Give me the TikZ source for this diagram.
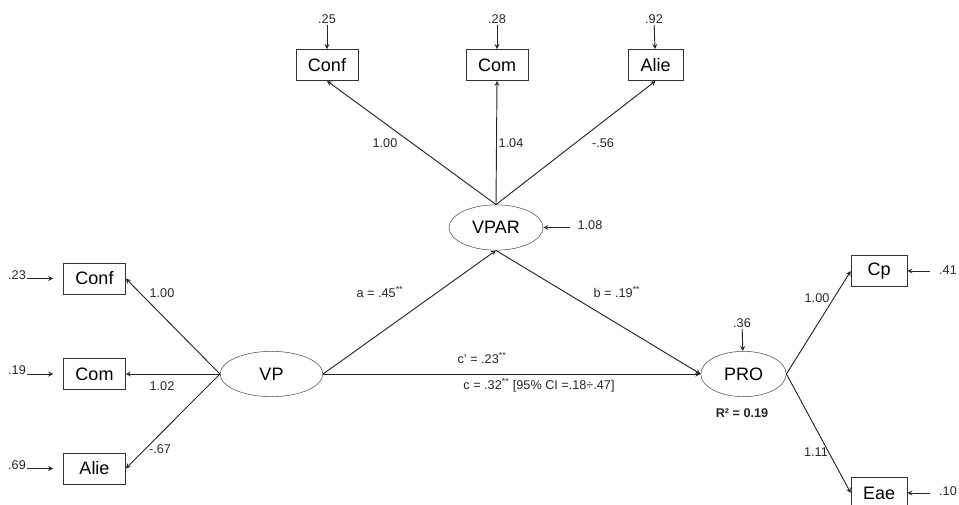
\documentclass[tikz,border=0pt]{standalone}
\usepackage{fontspec}
\setmainfont{Liberation Sans}
\usepackage{tikz}
\usetikzlibrary{shapes.geometric}

\tikzset{
  obs/.style={draw=black!80, rectangle, minimum width=46.5pt, minimum height=23.5pt, inner sep=0pt, font=\fontsize{13.5}{15}\selectfont},
  lat/.style={draw=black!70, ellipse, minimum width=70.5pt, minimum height=34pt, inner sep=0pt, font=\fontsize{13.5}{15}\selectfont},
  lbl/.style={inner sep=1pt, font=\fontsize{9.5}{11}\selectfont, text=black!85},
  link/.style={draw=black!85, line width=0.7pt, -stealth},
}

\begin{document}
\begin{tikzpicture}[x=0.75pt, y=-0.75pt]
    \useasboundingbox (0,0) rectangle (959,504) ;
    % latent variables
    \node[lat] (VPAR) at (496,227.5) {VPAR} ;
    \node[lat, minimum width=77pt] (VP) at (271.5,374) {VP} ;
    \node[lat, minimum width=64pt] (PRO) at (743.5,374) {PRO} ;
    % indicators
    \node[obs] (tConf) at (327,65) {Conf} ;
    \node[obs] (tCom) at (497,65) {Com} ;
    \node[obs, minimum width=41pt] (tAlie) at (655.5,65) {Alie} ;
    \node[obs] (lConf) at (94.5,278.5) {Conf} ;
    \node[obs] (lCom) at (94.5,374) {Com} ;
    \node[obs] (lAlie) at (94.5,468.5) {Alie} ;
    \node[obs, minimum width=42pt] (Cp) at (879,271) {Cp} ;
    \node[obs, minimum width=42pt] (Eae) at (879,493) {Eae} ;
    % error terms
    \node[lbl] (etConf) at (327,19) {.25} ;
    \node[lbl] (etCom) at (497,19) {.28} ;
    \node[lbl] (etAlie) at (654,19) {.92} ;
    \node[lbl] (elConf) at (17,275) {.23} ;
    \node[lbl] (elCom) at (17,370) {.19} ;
    \node[lbl] (elAlie) at (17,465) {.69} ;
    \node[lbl] (eCp) at (948,270) {.41} ;
    \node[lbl] (eEae) at (948,491) {.10} ;
    \node[lbl] (eVPAR) at (590,225) {1.08} ;
    \node[lbl] (ePRO) at (742,323) {.36} ;
    \draw[link] (etConf) -- (tConf) ;
    \draw[link] (etCom) -- (tCom) ;
    \draw[link] (etAlie) -- (tAlie) ;
    \draw[link, shorten >=7.5pt] (elConf.east |- lConf) -- (lConf) ;
    \draw[link, shorten >=7.5pt] (elCom.east |- lCom) -- (lCom) ;
    \draw[link, shorten >=7.5pt] (elAlie.east |- lAlie) -- (lAlie) ;
    \draw[link, shorten <=6pt] (eCp.west |- Cp) -- (Cp) ;
    \draw[link, shorten <=6pt] (eEae.west |- Eae) -- (Eae) ;
    \draw[link, shorten <=4.5pt] (eVPAR.west |- VPAR) -- (VPAR) ;
    \draw[link] (ePRO) -- (PRO) ;
    % loadings
    \draw[link] (VPAR.north) -- (tConf.south) ;
    \draw[link] (VPAR.north) -- (tCom.south) ;
    \draw[link] (VPAR.north) -- (tAlie.south) ;
    \draw[link] (VP.west) -- (lConf.east) ;
    \draw[link] (VP.west) -- (lCom.east) ;
    \draw[link] (VP.west) -- (lAlie.east) ;
    \draw[link] (PRO.east) -- (Cp.west) ;
    \draw[link] (PRO.east) -- (Eae.west) ;
    % structural paths
    \draw[link] (VP.east) -- (VPAR.south) ;
    \draw[link] (VPAR.south) -- (PRO.west) ;
    \draw[link] (VP.east) -- (PRO.west) ;
    % coefficients
    \node[lbl] (kConf) at (385,143) {1.00} ;
    \node[lbl] (kCom) at (511,143) {1.04} ;
    \node[lbl] (kAlie) at (603,143) {-.56} ;
    \node[lbl] (pConf) at (162,293) {1.00} ;
    \node[lbl] (pCom) at (162,386) {1.02} ;
    \node[lbl] (pAlie) at (160,449) {-.67} ;
    \node[lbl] (qCp) at (817,298) {1.00} ;
    \node[lbl] (qEae) at (816,452) {1.11} ;
    \node[lbl] (coefa) at (380,292) {a = .45\textsuperscript{**}} ;
    \node[lbl] (coefb) at (617,292) {b = .19\textsuperscript{**}} ;
    \node[lbl] (coefcp) at (482,358) {c’ = .23\textsuperscript{**}} ;
    \node[lbl] (coefc) at (539,385) {c = .32\textsuperscript{**} [95\% CI =.18÷.47]} ;
    \node[lbl, font=\fontsize{9.5}{11}\selectfont\bfseries] (rsq) at (742,413) {R² = 0.19} ;
\end{tikzpicture}
\end{document}
